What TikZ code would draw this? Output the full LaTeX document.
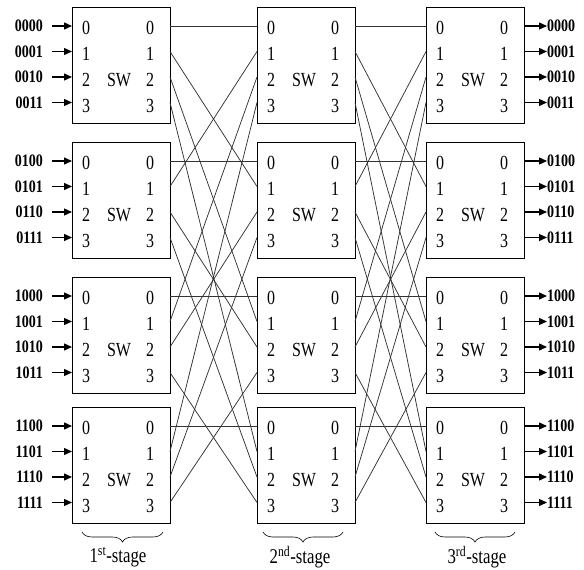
\documentclass[tikz,border=0pt]{standalone}
\usepackage{fontspec}
\setmainfont{Liberation Serif}[FakeStretch=0.8]
\usetikzlibrary{arrows.meta,decorations.pathreplacing}

\tikzset{
  swbox/.style={draw, line width=0.9pt, minimum width=98pt, minimum height=116pt, inner sep=0pt, anchor=north west},
  port/.style={font=\fontsize{20}{20}\selectfont, inner sep=0pt},
  addr/.style={font=\fontsize{17.5}{17.5}\selectfont\bfseries, inner sep=0pt},
  link/.style={black!80, line width=0.75pt},
  inarrow/.style={line width=1.3pt, -{Triangle[length=8pt,width=7pt]}},
  stagebrace/.style={decorate, decoration={brace, mirror, amplitude=10pt}, line width=0.6pt},
  stagelabel/.style={font=\fontsize{21}{21}\selectfont, inner sep=0pt},
}

\begin{document}
\begin{tikzpicture}[x=1pt, y=-1pt]
  \useasboundingbox (0,0) rectangle (584,570);
  % Draw switches of the three stages
  \foreach \s/\x in {1/72, 2/257, 3/426} {
    \foreach \b/\y in {0/7, 1/142, 2/277, 3/407} {
      \node[swbox] (sw\s\b) at (\x,\y) {};
      \node[port] (sw\s\b-sw) at (\x+47,\y+73) {SW};
      \foreach \p in {0,...,3} {
        \coordinate (sw\s\b-in\p) at (\x,\y+19+25.5*\p);
        \coordinate (sw\s\b-out\p) at (\x+98,\y+19+25.5*\p);
        \node[port] (sw\s\b-l\p) at (\x+14,\y+21+26*\p) {\p};
        \node[port] (sw\s\b-r\p) at (\x+78,\y+21+26*\p) {\p};
      }
    }
  }
  % Draw links between stages
  \foreach \s/\t in {1/2, 2/3} {
    \foreach \i in {0,...,3} {
      \foreach \k in {0,...,3} {
        \pgfmathtruncatemacro\j{\i==\k ? 0 : \k+(\k<\i)}
        \pgfmathtruncatemacro\q{\i==\k ? 0 : \i+(\i<\k)}
        \draw[link] (sw\s\i-out\j) -- (sw\t\k-in\q);
      }
    }
  }
  % Draw inputs and outputs
  \foreach \b/\y/\hi in {0/7/00, 1/142/01, 2/277/10, 3/407/11} {
    \foreach \p/\lo in {0/00, 1/01, 2/10, 3/11} {
      \node[addr, anchor=east] (in\b\p) at (43,\y+19+25.5*\p) {\hi\lo};
      \node[addr, anchor=west] (out\b\p) at (547,\y+19+25.5*\p) {\hi\lo};
      \draw[inarrow] ([xshift=9pt]in\b\p.east) -- (sw1\b-in\p);
      \draw[inarrow] (sw3\b-out\p) -- (out\b\p.west);
    }
  }
  % Draw stage braces
  \foreach \s/\a/\e/\c/\lab in {1/82/163/118/{1\textsuperscript{st}}, 2/263/343/300/{2\textsuperscript{nd}}, 3/435/515/477/{3\textsuperscript{rd}}} {
    \draw[stagebrace] (\a,532) -- (\e,532);
    \node[stagelabel] (stage\s) at (\c,557) {\lab-stage};
  }
\end{tikzpicture}
\end{document}
